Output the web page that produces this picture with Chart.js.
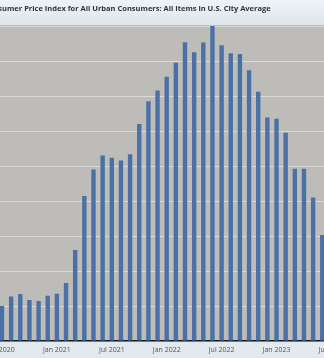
<!DOCTYPE html>
<html>
<head>
<meta charset="utf-8">
<script src="https://cdn.jsdelivr.net/npm/chart.js@4"></script>
<style>
  html, body { margin: 0; padding: 0; overflow: hidden; }
  body {
    width: 324px; height: 358px; position: relative;
    background: linear-gradient(#eef3f6 0px, #dee6ec 25px, #e3eaef 25px);
  }
  #wrap { position: absolute; left: -16px; top: 0; width: 352px; height: 358px; }
</style>
</head>
<body>
<div id="wrap"><canvas id="cpi" width="352" height="358"></canvas></div>
<script>
// months shown in the crop (Jul 2023 is only a tick label at the right edge)
const months = [
  'Jul 2020', 'Aug 2020', 'Sep 2020', 'Oct 2020', 'Nov 2020', 'Dec 2020',
  'Jan 2021', 'Feb 2021', 'Mar 2021', 'Apr 2021', 'May 2021', 'Jun 2021',
  'Jul 2021', 'Aug 2021', 'Sep 2021', 'Oct 2021', 'Nov 2021', 'Dec 2021',
  'Jan 2022', 'Feb 2022', 'Mar 2022', 'Apr 2022', 'May 2022', 'Jun 2022',
  'Jul 2022', 'Aug 2022', 'Sep 2022', 'Oct 2022', 'Nov 2022', 'Dec 2022',
  'Jan 2023', 'Feb 2023', 'Mar 2023', 'Apr 2023', 'May 2023', 'Jun 2023',
  'Jul 2023'
];

// percent change from year ago
const pctChange = [
  1.00, 1.27, 1.34, 1.17, 1.14, 1.29,
  1.35, 1.66, 2.60, 4.14, 4.90, 5.30,
  5.24, 5.16, 5.34, 6.20, 6.85, 7.16,
  7.55, 7.95, 8.54, 8.25, 8.53, 9.00,
  8.45, 8.22, 8.20, 7.74, 7.12, 6.39,
  6.35, 5.95, 4.92, 4.92, 4.10, 3.03,
  null
];

const yTicks = [0, 1, 2, 3, 4, 5, 6, 7, 8, 9];

// gray plot background
const plotBg = {
  id: 'plotBg',
  beforeDraw(chart) {
    const { ctx, chartArea: a } = chart;
    ctx.save();
    ctx.fillStyle = '#bebcb9';
    ctx.fillRect(a.left, a.top, a.right - a.left, a.bottom - a.top);
    ctx.restore();
  }
};

new Chart(document.getElementById('cpi'), {
  type: 'bar',
  data: {
    labels: months,
    datasets: [{
      label: 'CPI',
      data: pctChange,
      backgroundColor: '#4a71a5',
      barPercentage: 0.48,
      categoryPercentage: 1
    }]
  },
  options: {
    responsive: false,
    animation: false,
    devicePixelRatio: 1,
    layout: { padding: 0 },
    plugins: {
      legend: { display: false },
      tooltip: { enabled: false },
      title: {
        display: true,
        align: 'start',
        text: 'Consumer Price Index for All Urban Consumers: All Items in U.S. City Average',
        color: '#333',
        font: { family: 'Open Sans', size: 7.5, weight: 'bold', lineHeight: 1.2 },
        padding: { top: 4.5, bottom: 11.5 }
      }
    },
    scales: {
      x: {
        grid: { display: false, drawTicks: false },
        border: { display: true, color: '#1a1a1a', width: 1.5 },
        ticks: {
          autoSkip: false,
          maxRotation: 0,
          padding: 5,
          color: '#555',
          font: { family: 'Open Sans', size: 7 },
          callback(v) {
            const l = this.getLabelForValue(v);
            return (l.startsWith('Jan') || l.startsWith('Jul')) ? l : '';
          }
        },
        afterFit(axis) {
          axis.paddingLeft = 0;
          axis.paddingRight = 0;
          axis.height = 17;
        }
      },
      y: {
        min: 0,
        max: 9.03,
        afterBuildTicks(axis) {
          axis.ticks = yTicks.map(v => ({ value: v }));
        },
        grid: { color: '#d9d9d9', lineWidth: 1, drawTicks: false },
        border: { display: false },
        ticks: { display: false },
        afterFit(axis) { axis.width = 13.4; }
      }
    }
  },
  plugins: [plotBg]
});
</script>
</body>
</html>
